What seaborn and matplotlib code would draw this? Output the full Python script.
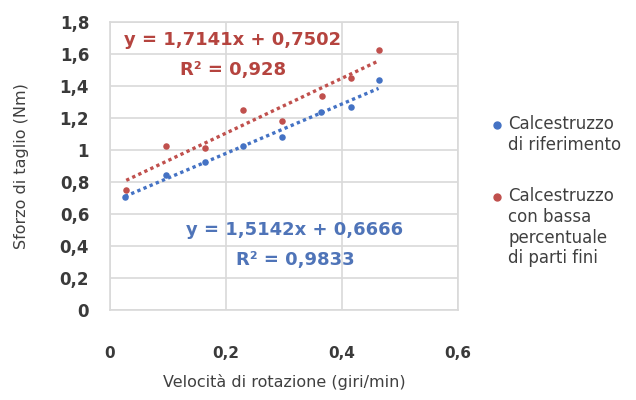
import matplotlib
matplotlib.use("Agg")
import matplotlib.pyplot as plt
import seaborn as sns
import pandas as pd
from matplotlib.lines import Line2D
from matplotlib.ticker import FuncFormatter

x_ref = [0.026, 0.097, 0.164, 0.230, 0.296, 0.363, 0.415, 0.463]
y_ref = [0.706, 0.844, 0.927, 1.027, 1.083, 1.240, 1.267, 1.438]
x_low = [0.028, 0.097, 0.164, 0.230, 0.297, 0.365, 0.415, 0.463]
y_low = [0.750, 1.027, 1.010, 1.250, 1.180, 1.340, 1.450, 1.625]

labels = ["Calcestruzzo\ndi riferimento", "Calcestruzzo\ncon bassa\npercentuale\ndi parti fini"]
eq_ref = ["y = 1,5142x + 0,6666", "R² = 0,9833"]
eq_low = ["y = 1,7141x + 0,7502", "R² = 0,928"]

blue = "#4472C4"
red = "#C0504D"
blue_t = "#4F74B8"
red_t = "#B5443F"
txt = "#404040"

sns.set_theme(style="white")
plt.rcParams['font.family'] = ['DejaVu Sans']

df_ref = pd.DataFrame({"x": x_ref, "y": y_ref})
df_low = pd.DataFrame({"x": x_low, "y": y_low})

fig = plt.figure(figsize=(6.36, 4.0), dpi=100)
ax = fig.add_axes([110/636, 90/400, 348/636, 288/400])

for df, c in [(df_ref, blue), (df_low, red)]:
    sns.regplot(data=df, x="x", y="y", ax=ax, ci=None, color=c,
                scatter_kws=dict(s=22, zorder=3, linewidths=0, alpha=1),
                line_kws=dict(linestyle=(0, (1.0, 1.0)), linewidth=2.4, zorder=2))

ax.set_xlim(0, 0.6)
ax.set_ylim(0, 1.8)
ax.set_xticks([0, 0.2, 0.4, 0.6])
ax.set_yticks([i * 0.2 for i in range(10)])

def fmt(v, pos):
    s = ("%.1f" % v).rstrip("0").rstrip(".")
    return s.replace(".", ",")

ax.xaxis.set_major_formatter(FuncFormatter(fmt))
ax.yaxis.set_major_formatter(FuncFormatter(fmt))
ax.grid(True, color="#D9D9D9", linewidth=1.2)
for s in ax.spines.values():
    s.set_color("#D9D9D9")
    s.set_linewidth(1.2)
ax.tick_params(axis="x", length=0, pad=26, labelsize=11, labelcolor="#3A3A3A")
ax.tick_params(axis="y", length=0, pad=15, labelsize=12, labelcolor="#3A3A3A")
for lab in ax.get_xticklabels() + ax.get_yticklabels():
    lab.set_fontweight("bold")

ax.set_xlabel("Velocità di rotazione (giri/min)", fontsize=11.5, color=txt, labelpad=9)
ax.set_ylabel("Sforzo di taglio (Nm)", fontsize=11.5, color=txt)
ax.yaxis.set_label_coords((29 - 110) / 348, 0.5)

ax.text(0.212, 1.6875, eq_low[0], color=red_t, fontsize=13, fontweight="bold", ha="center", va="center")
ax.text(0.212, 1.50, eq_low[1], color=red_t, fontsize=13, fontweight="bold", ha="center", va="center")
ax.text(0.319, 0.50, eq_ref[0], color=blue_t, fontsize=13, fontweight="bold", ha="center", va="center")
ax.text(0.319, 0.3125, eq_ref[1], color=blue_t, fontsize=13, fontweight="bold", ha="center", va="center")

# legend (manual, marker aligned with first text line)
leg_items = [(blue, labels[0], 125), (red, labels[1], 197)]
for c, lab, ypix in leg_items:
    fig.add_artist(Line2D([497/636], [1 - ypix/400], marker="o", linestyle="",
                          color=c, markersize=5, transform=fig.transFigure))
    fig.text(508/636, 1 - (ypix - 10)/400, lab, fontsize=12, color=txt,
             ha="left", va="top", linespacing=1.2)

fig.savefig("out.png", dpi=100)
